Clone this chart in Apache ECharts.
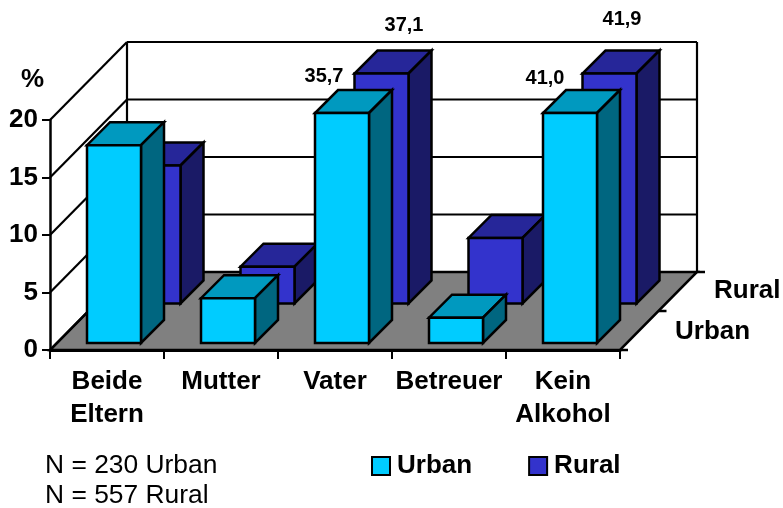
<!DOCTYPE html>
<html>
<head>
<meta charset="utf-8">
<style>
  html, body { margin: 0; padding: 0; background: #fff; }
  #main { width: 783px; height: 508px; }
</style>
<script src="https://cdn.jsdelivr.net/npm/echarts@6/dist/echarts.min.js"></script>
</head>
<body>
<div id="main"></div>
<script>
const categories = ['Beide\nEltern', 'Mutter', 'Vater', 'Betreuer', 'Kein\nAlkohol'];
const urbanValues = [17.2, 3.9, 35.7, 2.2, 41.0];
const ruralValues = [12.0, 3.2, 37.1, 5.7, 41.9];
const yTicks = [0, 5, 10, 15, 20];
const depthNames = ['Urban', 'Rural'];
const sampleNotes = ['N = 230 Urban', 'N = 557 Rural'];

const FONT = '"Liberation Sans", Arial, sans-serif';
const yMax = yTicks[yTicks.length - 1];
const yStep = yTicks[1] - yTicks[0];

// fake 3d: the depth axis goes up and right at about 45 degrees
const WALL_DX = 77;
const WALL_DY = 78;
const BAR_W = 54;
const BAR_DEPTH = 23;
const URBAN_DEPTH = 7;
const RURAL_DEPTH = 46.5;

// value labels were placed by hand in the original, offset from the front top left corner of the bar
const labelOffsets = {
  'urban2': [9, -37], 'rural2': [49.5, -48.5],
  'urban4': [2, -35], 'rural4': [39.5, -54.5]
};

function poly(points, fill) {
  return {
    type: 'polygon',
    shape: { points: points },
    style: { fill: fill, stroke: '#000', lineWidth: 2.5, lineJoin: 'miter' }
  };
}

function line(x1, y1, x2, y2, width) {
  return {
    type: 'line',
    shape: { x1: x1, y1: y1, x2: x2, y2: y2 },
    style: { stroke: '#000', lineWidth: width || 2.2 }
  };
}

function renderWalls(params, api) {
  const c = params.coordSys;
  const left = c.x, right = c.x + c.width, bottom = c.y + c.height;
  const children = [];
  // floor
  children.push({
    type: 'polygon',
    shape: { points: [[left, bottom], [right, bottom], [right + WALL_DX, bottom - WALL_DY], [left + WALL_DX, bottom - WALL_DY]] },
    style: { fill: '#808080', stroke: '#000', lineWidth: 2.5 }
  });
  // grid lines on the left and back walls
  yTicks.forEach(function (t) {
    const y = api.coord([0, t])[1];
    children.push(line(left, y, left + WALL_DX, y - WALL_DY));
    children.push(line(left + WALL_DX, y - WALL_DY, right + WALL_DX, y - WALL_DY));
  });
  const topY = api.coord([0, yMax])[1];
  children.push(line(left + WALL_DX, topY - WALL_DY, left + WALL_DX, bottom - WALL_DY));
  children.push(line(right + WALL_DX, topY - WALL_DY, right + WALL_DX, bottom - WALL_DY));
  // depth axis ticks
  [0, 0.5, 1].forEach(function (f) {
    const x = right + WALL_DX * f, y = bottom - WALL_DY * f;
    children.push(line(x, y, x + 8, y, 2.5));
  });
  return { type: 'group', children: children };
}

function barRenderer(key, depth, colors) {
  return function (params, api) {
    const i = api.value(0);
    const v = api.value(1);
    const base = api.coord([i, 0]);
    // bars above the axis max are cut off at the max and carry their value as text
    const top = api.coord([i, Math.min(v, yMax)]);
    const x1 = base[0] - BAR_W / 2 + depth;
    const x2 = x1 + BAR_W;
    const y1 = top[1] - depth;
    const y2 = base[1] - depth;
    const d = BAR_DEPTH;
    const children = [
      poly([[x1, y1], [x2, y1], [x2 + d, y1 - d], [x1 + d, y1 - d]], colors.top),
      poly([[x2, y1], [x2 + d, y1 - d], [x2 + d, y2 - d], [x2, y2]], colors.side),
      poly([[x1, y1], [x2, y1], [x2, y2], [x1, y2]], colors.front)
    ];
    if (v > yMax) {
      const off = labelOffsets[key + i] || [0, -30];
      children.push({
        type: 'text',
        style: {
          x: x1 + off[0], y: y1 + off[1],
          text: v.toFixed(1).replace('.', ','),
          font: 'bold 20px ' + FONT, fill: '#000',
          align: 'center', verticalAlign: 'middle'
        }
      });
    }
    return { type: 'group', children: children };
  };
}

function noteText(x, y, text, weight) {
  return {
    type: 'text', left: x, top: y, z: 10,
    style: { text: text, font: (weight || 'bold') + ' 26px ' + FONT, fill: '#000' }
  };
}

const chart = echarts.init(document.getElementById('main'), null, { renderer: 'canvas' });
chart.setOption({
  animation: false,
  backgroundColor: '#fff',
  textStyle: { fontFamily: FONT },
  grid: { left: 50, right: 163, top: 120, bottom: 158 },
  legend: {
    left: 366, top: 448, itemWidth: 18, itemHeight: 18, itemGap: 56,
    icon: 'rect', selectedMode: false,
    textStyle: { fontFamily: FONT, fontSize: 26, fontWeight: 'bold', color: '#000', padding: [0, 0, 0, 2] },
    data: ['Urban', 'Rural']
  },
  xAxis: {
    type: 'category', data: categories, z: 5,
    axisLine: { lineStyle: { color: '#000', width: 3 } },
    axisTick: { show: true, alignWithLabel: false, length: 9, lineStyle: { color: '#000', width: 2 } },
    axisLabel: { color: '#000', fontFamily: FONT, fontSize: 26, fontWeight: 'bold', lineHeight: 33, margin: 15, interval: 0 }
  },
  yAxis: {
    type: 'value', min: 0, max: yMax, interval: yStep, z: 5,
    splitLine: { show: false },
    axisLine: { show: true, lineStyle: { color: '#000', width: 2.5 } },
    axisTick: { show: true, length: 8, lineStyle: { color: '#000', width: 2 } },
    axisLabel: { color: '#000', fontFamily: FONT, fontSize: 26, fontWeight: 'bold', margin: 12 }
  },
  graphic: [
    noteText(21, 67, '%'),
    noteText(714, 278, depthNames[1]),
    noteText(675, 319, depthNames[0]),
    {
      type: 'text', left: 45, top: 453, z: 10,
      style: { text: sampleNotes[0], font: '26.4px ' + FONT, fill: '#000' }
    },
    {
      type: 'text', left: 45, top: 483, z: 10,
      style: { text: sampleNotes[1], font: '26.4px ' + FONT, fill: '#000' }
    }
  ],
  series: [
    {
      type: 'custom', name: 'walls', z: 1, silent: true,
      data: [[0, 0]], renderItem: renderWalls
    },
    {
      type: 'custom', name: 'Rural', z: 2,
      itemStyle: { color: '#3333CC', borderColor: '#000', borderWidth: 2.5 },
      data: ruralValues.map(function (v, i) { return [i, v]; }),
      encode: { x: 0, y: 1 },
      renderItem: barRenderer('rural', RURAL_DEPTH, { front: '#3333CC', top: '#262699', side: '#1A1A66' })
    },
    {
      type: 'custom', name: 'Urban', z: 3,
      itemStyle: { color: '#00CCFF', borderColor: '#000', borderWidth: 2.5 },
      data: urbanValues.map(function (v, i) { return [i, v]; }),
      encode: { x: 0, y: 1 },
      renderItem: barRenderer('urban', URBAN_DEPTH, { front: '#00CCFF', top: '#0099BF', side: '#006680' })
    }
  ]
});
</script>
</body>
</html>
